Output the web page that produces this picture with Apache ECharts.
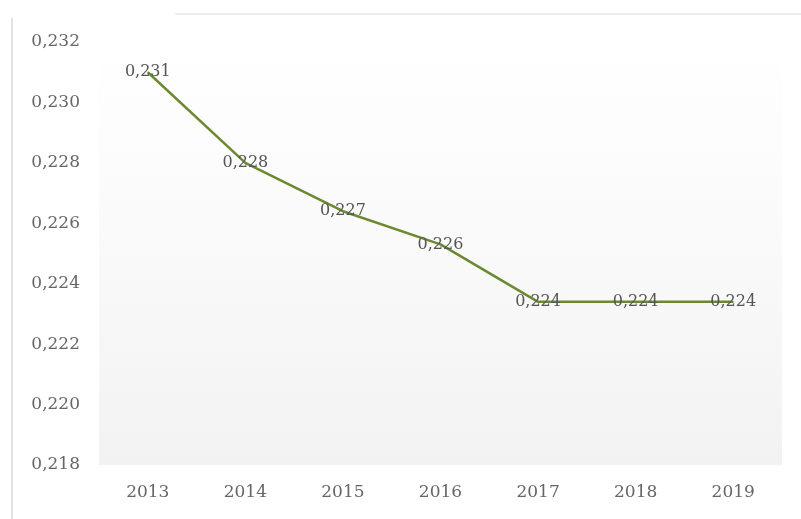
<!DOCTYPE html>
<html>
<head>
<meta charset="utf-8">
<script src="https://cdn.jsdelivr.net/npm/echarts@6/dist/echarts.min.js"></script>
<style>
  html, body { margin: 0; padding: 0; background: #fff; }
  #chart { width: 801px; height: 519px; }
</style>
</head>
<body>
<div id="chart"></div>
<script>
var years = ['2013', '2014', '2015', '2016', '2017', '2018', '2019'];
var values = [0.2310, 0.2280, 0.2264, 0.2253, 0.2234, 0.2234, 0.2234];
var valueLabels = ['0,231', '0,228', '0,227', '0,226', '0,224', '0,224', '0,224'];
var yMin = 0.218;
var yMax = 0.232;
var yStep = 0.002;

var chart = echarts.init(document.getElementById('chart'));
var serif = '"DejaVu Serif", "Liberation Serif", serif';

var option = {
    backgroundColor: '#fff',
    animation: false,
    graphic: [
        { type: 'rect', shape: { x: 11, y: 18, width: 2, height: 501 }, style: { fill: '#e2e2e2' } },
        { type: 'rect', shape: { x: 175, y: 13, width: 626, height: 2 }, style: { fill: '#ececec' } }
    ],
    grid: {
        left: 99,
        right: 19,
        top: 42,
        bottom: 54,
        show: true,
        borderWidth: 0,
        backgroundColor: new echarts.graphic.LinearGradient(0, 0, 0, 1, [
            { offset: 0, color: '#ffffff' },
            { offset: 0.6, color: '#f8f8f8' },
            { offset: 1, color: '#f2f2f2' }
        ])
    },
    xAxis: {
        type: 'category',
        data: years,
        boundaryGap: true,
        axisLine: { show: false },
        axisTick: { show: false },
        axisLabel: {
            margin: 19,
            fontFamily: serif,
            fontSize: 17,
            color: '#666'
        }
    },
    yAxis: {
        type: 'value',
        min: yMin,
        max: yMax,
        interval: yStep,
        axisLine: { show: false },
        axisTick: { show: false },
        splitLine: { show: false },
        axisLabel: {
            margin: 19,
            fontFamily: serif,
            fontSize: 17,
            color: '#666',
            formatter: function (v) {
                return v.toFixed(3).replace('.', ',');
            }
        }
    },
    series: [
        {
            type: 'line',
            data: values,
            symbol: 'circle',
            symbolSize: 1,
            showSymbol: true,
            itemStyle: { color: '#6b8a30' },
            lineStyle: { color: '#6b8a30', width: 2.5 },
            label: {
                show: true,
                position: 'inside',
                fontFamily: serif,
                fontSize: 16,
                color: '#555',
                formatter: function (p) {
                    return valueLabels[p.dataIndex];
                }
            }
        }
    ]
};
chart.setOption(option);
</script>
</body>
</html>
